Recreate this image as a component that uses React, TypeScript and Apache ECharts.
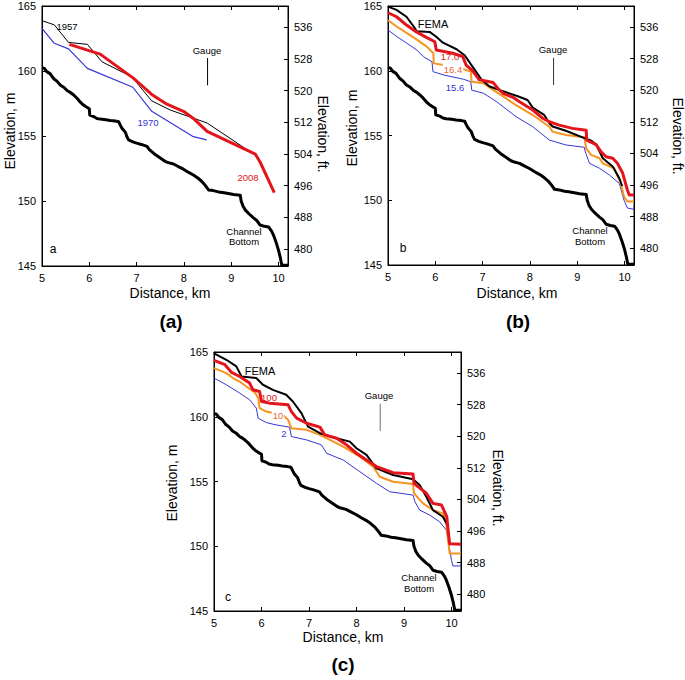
import { useEffect, useRef } from "react";
import * as echarts from "echarts";

// ---------- axis ticks ----------
const KM_TICKS = [5, 6, 7, 8, 9, 10];
const M_TICKS = [145, 150, 155, 160, 165];
const FT_TICKS = [480, 488, 496, 504, 512, 520, 528, 536];

// ---------- shared channel bottom (km, m) ----------
const channelBottom: number[][] = [
  [5.0, 160.25], [5.05, 160.2], [5.1, 159.95], [5.17, 159.8], [5.25, 159.4], [5.32, 159.2],
  [5.39, 158.9], [5.46, 158.75], [5.53, 158.5], [5.6, 158.35], [5.67, 158.15], [5.74, 157.9],
  [5.81, 157.6], [5.87, 157.4], [5.93, 157.25], [6.0, 157.1], [6.01, 156.6], [6.09, 156.5],
  [6.16, 156.35], [6.23, 156.3], [6.35, 156.25], [6.44, 156.2], [6.55, 156.15], [6.62, 156.1],
  [6.66, 155.8], [6.69, 155.6], [6.76, 155.3], [6.8, 154.9], [6.83, 154.7], [6.92, 154.55],
  [7.0, 154.45], [7.1, 154.35], [7.22, 154.2], [7.27, 153.95], [7.32, 153.8], [7.4, 153.55],
  [7.5, 153.3], [7.6, 153.05], [7.67, 152.95], [7.78, 152.85], [7.88, 152.65], [7.99, 152.45],
  [8.1, 152.2], [8.2, 152.0], [8.3, 151.75], [8.38, 151.5], [8.45, 151.2], [8.52, 150.85],
  [8.62, 150.8], [8.73, 150.7], [8.82, 150.65], [8.91, 150.6], [9.05, 150.5], [9.19, 150.45],
  [9.21, 150.0], [9.25, 149.6], [9.3, 149.3], [9.38, 149.0], [9.47, 148.7], [9.54, 148.5],
  [9.61, 148.15], [9.7, 148.05], [9.79, 148.0], [9.85, 147.7], [9.89, 147.4], [9.95, 146.8],
  [10.0, 146.2], [10.04, 145.6], [10.07, 145.05], [10.2, 145.05],
];

const gauge: number[][] = [[8.5, 158.9], [8.5, 161.0]];

// ---------- panel a ----------
const a1957: number[][] = [
  [5.0, 163.87], [5.26, 163.55], [5.56, 162.2], [5.96, 162.05], [6.27, 160.7], [6.9, 159.55],
  [7.32, 157.7], [7.71, 157.0], [8.49, 156.0], [9.58, 153.35],
];
const a1970: number[][] = [
  [5.0, 163.28], [5.26, 162.13], [5.56, 161.7], [5.96, 160.2], [6.92, 158.75], [7.32, 156.9],
  [8.2, 154.95], [8.48, 154.7],
];
const a2008: number[][] = [
  [5.58, 162.05], [6.01, 161.55], [6.23, 161.3], [6.93, 159.45], [7.32, 158.2], [7.64, 157.45],
  [7.99, 156.9], [8.2, 156.35], [8.49, 155.35], [9.51, 153.6], [9.61, 153.0], [9.91, 150.65],
];

// ---------- panel b ----------
const bFema: number[][] = [
  [5.0, 164.95], [5.18, 164.7], [5.39, 164.17], [5.57, 163.28], [5.6, 163.05], [5.88, 163.0],
  [6.02, 162.63], [6.16, 162.17], [6.45, 161.66], [6.62, 161.2], [6.79, 160.3], [6.98, 159.3],
  [7.14, 158.8], [7.4, 158.45], [7.73, 158.05], [7.95, 157.74], [8.06, 157.15], [8.3, 156.6],
  [8.41, 155.95], [8.48, 155.7], [8.76, 155.37], [9.15, 154.8], [9.3, 154.6], [9.4, 154.3],
  [9.54, 153.24], [9.75, 152.6], [9.89, 151.7], [9.95, 151.1],
];
const b170: number[][] = [
  [5.0, 164.48], [5.18, 164.17], [5.39, 163.53], [5.6, 163.0], [5.81, 162.58], [5.99, 162.24],
  [6.02, 161.6], [6.37, 161.35], [6.58, 161.1], [6.65, 160.44], [6.79, 160.0], [6.93, 159.3],
  [7.22, 159.1], [7.32, 158.65], [7.43, 158.26], [7.64, 157.95], [7.78, 157.6], [8.06, 156.97],
  [8.27, 156.33], [8.41, 156.06], [8.62, 155.8], [8.9, 155.55], [9.19, 155.4], [9.2, 154.65],
  [9.4, 154.3], [9.5, 153.75], [9.61, 153.36], [9.75, 153.24], [9.85, 152.85], [9.96, 152.1],
  [10.06, 150.8], [10.1, 150.4], [10.2, 150.4],
];
const b164: number[][] = [
  [5.0, 163.9], [5.19, 163.4], [5.4, 162.9], [5.61, 162.4], [5.82, 161.86], [5.96, 161.35],
  [5.965, 160.57], [6.18, 160.44], [6.54, 160.19], [6.75, 159.93], [6.77, 159.15], [7.02, 159.03],
  [7.23, 158.5], [7.44, 158.0], [7.68, 157.4], [8.06, 156.58], [8.41, 155.68], [8.48, 155.3],
  [8.76, 155.04], [9.15, 154.86], [9.19, 154.0], [9.29, 153.5], [9.47, 153.24], [9.54, 152.85],
  [9.78, 152.47], [9.92, 151.3], [9.99, 150.27], [10.06, 149.9], [10.2, 149.9],
];
const b156: number[][] = [
  [5.0, 163.15], [5.19, 162.63], [5.4, 162.12], [5.61, 161.6], [5.75, 161.08], [5.93, 160.7],
  [5.95, 159.93], [6.18, 159.67], [6.6, 159.34], [6.75, 159.15], [6.77, 158.5], [7.02, 158.26],
  [7.3, 157.6], [7.62, 156.7], [7.71, 156.45], [8.06, 155.68], [8.41, 154.65], [8.76, 154.27],
  [9.15, 154.09], [9.17, 153.75], [9.26, 152.85], [9.47, 152.47], [9.68, 151.95], [9.89, 151.3],
  [9.99, 150.0], [10.06, 149.4], [10.2, 149.3],
];

// ---------- panel c ----------
const cFema: number[][] = [
  [5.0, 164.9], [5.26, 164.4], [5.47, 163.89], [5.58, 163.11], [5.89, 162.99], [6.03, 162.47],
  [6.24, 162.08], [6.52, 161.7], [6.66, 161.18], [6.84, 160.28], [6.98, 159.24], [7.23, 158.73],
  [7.58, 158.34], [7.86, 158.08], [8.0, 157.57], [8.21, 157.05], [8.42, 156.02], [8.77, 155.5],
  [9.19, 155.17], [9.33, 154.73], [9.47, 153.82], [9.61, 152.79], [9.82, 152.28], [9.93, 151.5],
];
const c100: number[][] = [
  [5.0, 164.35], [5.23, 164.02], [5.37, 163.42], [5.54, 163.11], [5.75, 162.6], [5.82, 162.08],
  [5.96, 161.95], [6.0, 161.18], [6.17, 161.05], [6.56, 160.92], [6.63, 160.4], [6.74, 159.89],
  [6.95, 159.5], [7.23, 159.2], [7.33, 158.6], [7.58, 158.34], [7.79, 157.83], [8.0, 157.18],
  [8.21, 156.66], [8.42, 156.15], [8.77, 155.68], [9.19, 155.58], [9.21, 154.86], [9.47, 154.09],
  [9.61, 153.31], [9.79, 153.18], [9.9, 152.28], [9.96, 150.2], [10.2, 150.16],
];
const c10: number[][] = [
  [5.0, 163.76], [5.26, 163.37], [5.4, 162.99], [5.54, 162.72], [5.68, 162.34], [5.86, 161.87],
  [5.93, 161.44], [5.96, 160.67], [6.1, 160.4], [6.45, 160.15], [6.56, 159.76], [6.63, 159.12],
  [6.95, 158.99], [7.23, 158.6], [7.44, 158.21], [7.72, 157.69], [8.07, 156.92], [8.35, 156.15],
  [8.49, 155.37], [8.77, 154.98], [9.19, 154.81], [9.21, 154.09], [9.4, 153.31], [9.61, 152.79],
  [9.82, 152.54], [9.89, 151.76], [9.96, 149.44], [10.2, 149.44],
];
const c2: number[][] = [
  [5.0, 162.99], [5.26, 162.47], [5.54, 161.83], [5.75, 161.31], [5.89, 160.67], [5.93, 159.89],
  [6.1, 159.55], [6.31, 159.37], [6.59, 159.2], [6.63, 158.47], [6.95, 158.21], [7.26, 157.83],
  [7.37, 157.18], [7.72, 156.66], [8.07, 155.76], [8.42, 154.86], [8.7, 154.21], [9.19, 153.95],
  [9.23, 153.44], [9.33, 152.79], [9.54, 152.41], [9.75, 151.89], [9.89, 151.25], [10.0, 148.92],
  [10.03, 148.48], [10.2, 148.48],
];

const FONT = "'Liberation Sans', Arial, sans-serif";
const RED = "#e3141b";
const ORANGE = "#f7941d";
const BLUE = "#3535d8";
const M_TO_FT = 1 / 0.3048;

const GRIDS = [
  { left: 42, top: 6, width: 246, height: 260 },
  { left: 388, top: 6, width: 246, height: 259 },
  { left: 214, top: 352, width: 247, height: 259 },
];

function xAxes(g: number) {
  const base = {
    type: "value",
    gridIndex: g,
    min: 5,
    max: 10.2,
    axisLine: { show: true, onZero: false, lineStyle: { color: "#000", width: 1 } },
    splitLine: { show: false },
  };
  return [
    {
      ...base,
      position: "bottom",
      axisTick: { show: true, inside: true, length: 4, customValues: KM_TICKS, lineStyle: { color: "#000" } },
      axisLabel: { show: true, customValues: KM_TICKS, color: "#000", fontSize: 11, fontFamily: FONT, margin: 6 },
    },
    {
      ...base,
      position: "top",
      axisTick: { show: true, inside: true, length: 4, customValues: KM_TICKS, lineStyle: { color: "#000" } },
      axisLabel: { show: false },
    },
  ];
}

function yAxes(g: number) {
  return [
    {
      type: "value",
      gridIndex: g,
      position: "left",
      min: 145,
      max: 165,
      interval: 5,
      axisLine: { show: true, onZero: false, lineStyle: { color: "#000", width: 1 } },
      axisTick: { show: true, inside: true, length: 4, lineStyle: { color: "#000" } },
      axisLabel: { color: "#000", fontSize: 11, fontFamily: FONT, margin: 6 },
      splitLine: { show: false },
    },
    {
      type: "value",
      gridIndex: g,
      position: "right",
      min: 145 * M_TO_FT,
      max: 165 * M_TO_FT,
      axisLine: { show: true, onZero: false, lineStyle: { color: "#000", width: 1 } },
      axisTick: { show: true, inside: true, length: 4, customValues: FT_TICKS, lineStyle: { color: "#000" } },
      axisLabel: { customValues: FT_TICKS, color: "#000", fontSize: 11, fontFamily: FONT, margin: 6 },
      splitLine: { show: false },
    },
  ];
}

function line(g: number, data: number[][], color: string, width: number, z = 2) {
  return {
    type: "line",
    xAxisIndex: g * 2,
    yAxisIndex: g * 2,
    data,
    symbol: "none",
    silent: true,
    z,
    lineStyle: { color, width, join: "round" },
  };
}

function txt(x: number, y: number, text: string, size: number, color = "#000", opts: any = {}) {
  return {
    type: "text",
    x,
    y,
    rotation: opts.rotation || 0,
    z: 100,
    style: {
      text,
      fontSize: size,
      fontFamily: FONT,
      fontWeight: opts.bold ? "bold" : "normal",
      fill: color,
      align: "center",
      verticalAlign: "middle",
      backgroundColor: opts.bg ? "#fff" : undefined,
      padding: opts.bg ? [0, 1] : undefined,
    },
  };
}

export default function App() {
  const ref = useRef<HTMLDivElement>(null);
  useEffect(() => {
    if (!ref.current) return;
    const chart = echarts.init(ref.current, undefined, { renderer: "svg" });
    const xs: any[] = [];
    const ys: any[] = [];
    [0, 1, 2].forEach((g) => {
      xs.push(...xAxes(g));
      ys.push(...yAxes(g));
    });
    const series: any[] = [
      // panel a
      line(0, channelBottom, "#000", 3),
      line(0, a1957, "#000", 1),
      line(0, a1970, BLUE, 1.2),
      line(0, a2008, RED, 3),
      line(0, gauge, "#000", 1),
      // panel b
      line(1, channelBottom, "#000", 3),
      line(1, b156, BLUE, 1),
      line(1, b164, ORANGE, 2),
      line(1, bFema, "#000", 2),
      line(1, b170, RED, 3),
      line(1, gauge, "#333", 1),
      // panel c
      line(2, channelBottom, "#000", 3),
      line(2, c2, BLUE, 1),
      line(2, c10, ORANGE, 2),
      line(2, cFema, "#000", 2),
      line(2, c100, RED, 3),
      line(2, gauge, "#888", 1.2),
    ];
    const graphic: any[] = [
      // panel a
      txt(10, 131, "Elevation, m", 14, "#000", { rotation: Math.PI / 2 }),
      txt(323, 134, "Elevation, ft.", 14, "#000", { rotation: -Math.PI / 2 }),
      txt(170, 293, "Distance, km", 14),
      txt(171, 321, "(a)", 19, "#000", { bold: true }),
      txt(67, 26, "1957", 9.5),
      txt(148, 122, "1970", 9.5, BLUE),
      txt(248, 177, "2008", 9.5, RED),
      txt(207, 50, "Gauge", 9.5),
      txt(244, 231, "Channel", 9.5),
      txt(244, 241, "Bottom", 9.5),
      txt(53, 249, "a", 12),
      // panel b
      txt(352, 128, "Elevation, m", 14, "#000", { rotation: Math.PI / 2 }),
      txt(678, 136, "Elevation, ft.", 14, "#000", { rotation: -Math.PI / 2 }),
      txt(517, 293, "Distance, km", 14),
      txt(518, 321, "(b)", 19, "#000", { bold: true }),
      txt(433, 24, "FEMA", 11),
      txt(450, 56, "17.0", 9.5, RED, { bg: false }),
      txt(453, 69, "16.4", 9.5, "#e8643a", { bg: true }),
      txt(455, 87, "15.6", 9.5, BLUE, { bg: true }),
      txt(553, 49, "Gauge", 9.5),
      txt(590, 230, "Channel", 9.5),
      txt(590, 241, "Bottom", 9.5),
      txt(403, 248, "b", 12),
      // panel c
      txt(172, 483, "Elevation, m", 14, "#000", { rotation: Math.PI / 2 }),
      txt(498, 488, "Elevation, ft.", 14, "#000", { rotation: -Math.PI / 2 }),
      txt(343, 637, "Distance, km", 14),
      txt(343, 664, "(c)", 19, "#000", { bold: true }),
      txt(260, 371, "FEMA", 11),
      txt(269, 397, "100", 9.5, RED, { bg: false }),
      txt(278, 415, "10", 9.5, "#e8643a", { bg: true }),
      txt(284, 433, "2", 9.5, BLUE, { bg: true }),
      txt(379, 395, "Gauge", 9.5),
      txt(419, 577, "Channel", 9.5),
      txt(419, 588, "Bottom", 9.5),
      txt(228, 597, "c", 12),
    ];
    chart.setOption({
      animation: false,
      backgroundColor: "#fff",
      grid: GRIDS.map((r) => ({ ...r, show: true, borderColor: "#000", borderWidth: 1, containLabel: false })),
      xAxis: xs,
      yAxis: ys,
      series,
      graphic,
    });
    return () => chart.dispose();
  }, []);
  return (
    <div
      ref={ref}
      style={{ position: "fixed", left: 0, top: 0, width: 685, height: 680, background: "#fff" }}
    />
  );
}
